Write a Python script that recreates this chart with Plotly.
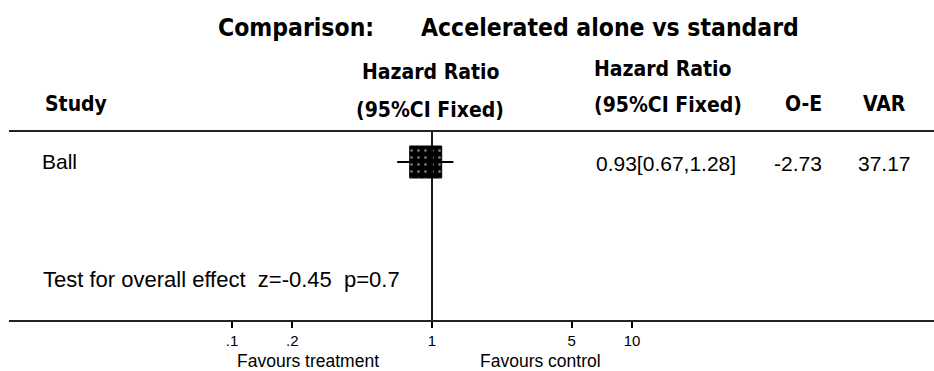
import plotly.graph_objects as go

# ---- data ----
studies = ["Ball"]
hr = [0.93]
ci_low = [0.67]
ci_high = [1.28]
o_minus_e = [-2.73]
variance = [37.17]
tick_vals = [0.1, 0.2, 1, 5, 10]
tick_text = [".1", ".2", "1", "5", "10"]
null_effect = 1
z_value = -0.45
p_value = 0.7
title_left = "Comparison:"
title_right = "Accelerated alone vs standard"

W, H = 934, 371
BODY = "Liberation Sans, Arial, sans-serif"
HEAD = "Liberation Sans Narrow, DejaVu Sans Condensed, Arial Narrow, sans-serif"

# pixel geometry (layout only)
X_ONE = 432.0          # pixel of HR = 1
PX_PER_DEC = 200.0
LEFT_PX = 9.0
Y_TOP_LINE = 131
Y_AXIS = 321
ROW_Y = [162]
SQ = 32  # square size px

def px(v):
    return v / W

fig = go.Figure()

# line of no effect
fig.add_trace(go.Scatter(x=[null_effect, null_effect], y=[Y_TOP_LINE, Y_AXIS],
                         mode="lines", line=dict(color="black", width=1.8),
                         hoverinfo="skip", showlegend=False))

# CI lines
for i in range(len(studies)):
    fig.add_trace(go.Scatter(x=[ci_low[i], ci_high[i]], y=[ROW_Y[i], ROW_Y[i]],
                             mode="lines", line=dict(color="black", width=1.8),
                             hoverinfo="skip", showlegend=False))

# squares (patterned)
half = 10 ** ((SQ / 2) / PX_PER_DEC)
bases = [h / half for h in hr]
lengths = [h * half - h / half for h in hr]
fig.add_trace(go.Bar(orientation="h", y=ROW_Y, x=lengths, base=bases, width=SQ,
                     marker=dict(color="black", line=dict(color="black", width=1),
                                 pattern=dict(shape=".", fgcolor="white", bgcolor="black",
                                              size=7, solidity=0.12)),
                     hoverinfo="skip", showlegend=False))

ann = []
def text(x, y, s, size=21, font=BODY, bold=False, xanchor="left"):
    ann.append(dict(xref="paper", yref="y", x=px(x), y=y, text=(f"<b>{s}</b>" if bold else s),
                    showarrow=False, xanchor=xanchor, yanchor="middle",
                    font=dict(family=font, size=size, color="black")))

# title
text(216, 27, title_left, size=24.5, font=HEAD, bold=True)
text(419, 27, title_right, size=24.5, font=HEAD, bold=True)
# headers
text(431, 72, "Hazard Ratio", size=21, font=HEAD, bold=True, xanchor="center")
text(430, 110, "(95%CI Fixed)", size=21, font=HEAD, bold=True, xanchor="center")
text(592, 69, "Hazard Ratio", size=21, font=HEAD, bold=True)
text(592, 105, "(95%CI Fixed)", size=21, font=HEAD, bold=True)
text(43, 104, "Study", size=21, font=HEAD, bold=True)
text(783, 104, "O-E", size=21, font=HEAD, bold=True)
text(861, 104, "VAR", size=21, font=HEAD, bold=True)

# rows
for i, s in enumerate(studies):
    text(40, ROW_Y[i] - 1, s)
    text(594, ROW_Y[i] + 1, f"{hr[i]:.2f}[{ci_low[i]:.2f},{ci_high[i]:.2f}]")
    text(772, ROW_Y[i] + 1, f"{o_minus_e[i]:.2f}")
    text(856, ROW_Y[i] + 1, f"{variance[i]:.2f}")

text(41, 279, f"Test for overall effect  z={z_value}  p={p_value}", size=22)
text(308, 360.5, "Favours treatment", size=17.5, xanchor="center")
text(540, 360.5, "Favours control", size=17.5, xanchor="center")

# top rule
shapes = [dict(type="line", xref="paper", yref="y", x0=px(LEFT_PX), x1=1,
               y0=Y_TOP_LINE, y1=Y_TOP_LINE, line=dict(color="#222", width=2))]

rng_lo = (LEFT_PX - X_ONE) / PX_PER_DEC
rng_hi = (W - X_ONE) / PX_PER_DEC

fig.update_layout(
    width=W, height=H, autosize=False,
    margin=dict(l=0, r=0, t=0, b=0),
    paper_bgcolor="white", plot_bgcolor="white",
    showlegend=False, barmode="overlay",
    annotations=ann, shapes=shapes,
    xaxis=dict(type="log", domain=[LEFT_PX / W, 1], range=[rng_lo, rng_hi],
               tickvals=tick_vals, ticktext=tick_text, ticks="outside", ticklen=6,
               tickwidth=1.5, tickcolor="black",
               showline=True, linecolor="#222", linewidth=2,
               showgrid=False, zeroline=False, anchor="free",
               position=(H - Y_AXIS) / H,
               tickfont=dict(family=BODY, size=15, color="black")),
    yaxis=dict(range=[H, 0], domain=[0, 1], visible=False, showgrid=False, zeroline=False),
)

fig.write_html("out.html",
               config={"displayModeBar": False, "staticPlot": True},
               post_script="document.body.style.margin='0';document.body.style.padding='0';"
                           "document.body.style.overflow='hidden';")
